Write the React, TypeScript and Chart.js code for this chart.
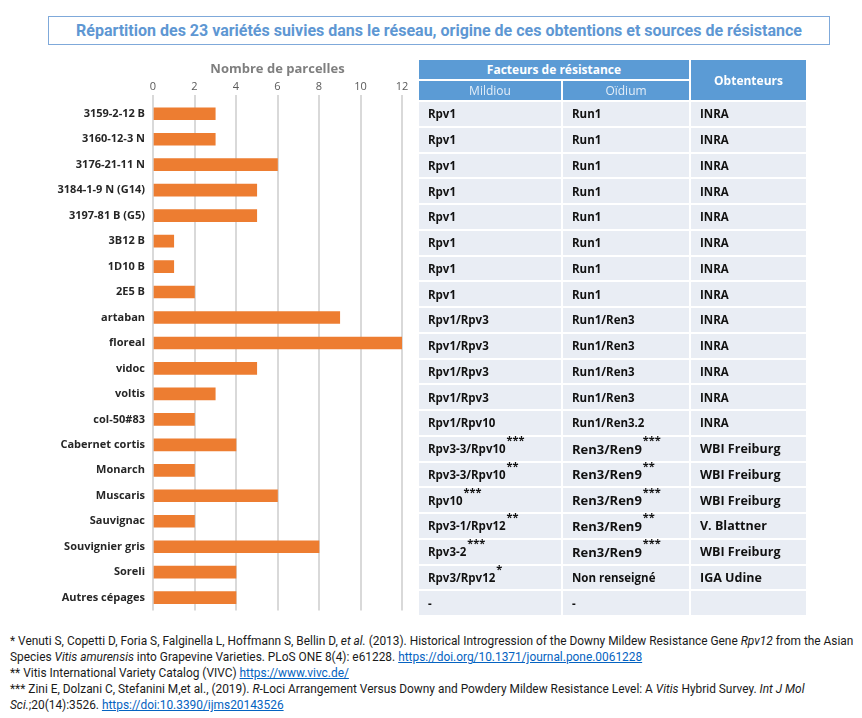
import React, { useEffect, useRef } from "react";
import { Chart, registerables } from "chart.js";

Chart.register(...registerables);

const categories = [
  "3159-2-12 B", "3160-12-3 N", "3176-21-11 N", "3184-1-9 N (G14)", "3197-81 B (G5)",
  "3B12 B", "1D10 B", "2E5 B", "artaban", "floreal", "vidoc", "voltis", "col-50#83",
  "Cabernet cortis", "Monarch", "Muscaris", "Sauvignac", "Souvignier gris", "Soreli", "Autres cépages",
];
const parcelles = [3, 3, 6, 5, 5, 1, 1, 2, 9, 12, 5, 3, 2, 4, 2, 6, 2, 8, 4, 4];
const xTicks = [0, 2, 4, 6, 8, 10, 12];

const mildiou = [
  "Rpv1", "Rpv1", "Rpv1", "Rpv1", "Rpv1", "Rpv1", "Rpv1", "Rpv1",
  "Rpv1/Rpv3", "Rpv1/Rpv3", "Rpv1/Rpv3", "Rpv1/Rpv3", "Rpv1/Rpv10",
  "Rpv3-3/Rpv10", "Rpv3-3/Rpv10", "Rpv10", "Rpv3-1/Rpv12", "Rpv3-2", "Rpv3/Rpv12", "-",
];
const mildiouNote = ["", "", "", "", "", "", "", "", "", "", "", "", "", "***", "**", "***", "**", "***", "*", ""];
const oidium = [
  "Run1", "Run1", "Run1", "Run1", "Run1", "Run1", "Run1", "Run1",
  "Run1/Ren3", "Run1/Ren3", "Run1/Ren3", "Run1/Ren3", "Run1/Ren3.2",
  "Ren3/Ren9", "Ren3/Ren9", "Ren3/Ren9", "Ren3/Ren9", "Ren3/Ren9", "Non renseigné", "-",
];
const oidiumNote = ["", "", "", "", "", "", "", "", "", "", "", "", "", "***", "**", "***", "**", "***", "", ""];
const obtenteurs = [
  "INRA", "INRA", "INRA", "INRA", "INRA", "INRA", "INRA", "INRA",
  "INRA", "INRA", "INRA", "INRA", "INRA",
  "WBI Freiburg", "WBI Freiburg", "WBI Freiburg", "V. Blattner", "WBI Freiburg", "IGA Udine", "",
];

const title = "Répartition des 23 variétés suivies dans le réseau, origine de ces obtentions et sources de résistance";

const CANVAS_TOP = 55;
const PLOT_LEFT = 153;
const PLOT_TOP = 101;
const PLOT_BOTTOM = 616;
const ROW_H = (PLOT_BOTTOM - PLOT_TOP) / categories.length;

const link = { color: "#0563c1", textDecoration: "underline" } as const;

export default function App() {
  const ref = useRef<HTMLCanvasElement | null>(null);

  useEffect(() => {
    let chart: Chart | null = null;
    let cancelled = false;
    const build = () => {
      if (cancelled || !ref.current) return;
      chart = new Chart(ref.current, {
        type: "bar",
        data: {
          labels: categories,
          datasets: [
            {
              data: parcelles,
              backgroundColor: "#ed7d31",
              barThickness: 12,
            },
          ],
        },
        options: {
          indexAxis: "y",
          animation: false,
          responsive: false,
          maintainAspectRatio: false,
          layout: { padding: { top: 0, right: 18, bottom: 9, left: 0 } },
          plugins: { legend: { display: false }, tooltip: { enabled: false } },
          scales: {
            x: {
              position: "top",
              min: 0,
              max: 12,
              afterBuildTicks: (s: any) => {
                s.ticks = xTicks.map((v) => ({ value: v }));
              },
              afterFit: (s: any) => {
                s.height = PLOT_TOP - CANVAS_TOP;
              },
              ticks: {
                color: "#595959",
                padding: 2,
                font: { family: "'Open Sans', sans-serif", size: 11 },
              },
              grid: { color: "#d9d9d9", lineWidth: 2, tickLength: 6 },
              border: { display: false },
              title: {
                display: true,
                text: "Nombre de parcelles",
                color: "#7f7f7f",
                padding: { top: 6, bottom: 0 },
                font: { family: "'Open Sans', sans-serif", size: 13, weight: "bold" },
              },
            },
            y: {
              afterFit: (s: any) => {
                s.width = PLOT_LEFT;
              },
              ticks: {
                color: "#262626",
                padding: 8,
                font: { family: "'Open Sans', sans-serif", size: 11, weight: "bold" },
              },
              grid: { display: false, drawTicks: false },
              border: { display: false },
            },
          },
        },
      });
    };
    const fonts = (document as any).fonts;
    if (fonts && fonts.load) {
      Promise.all([
        fonts.load("bold 11px 'Open Sans'"),
        fonts.load("11px 'Open Sans'"),
        fonts.load("bold 13px 'Open Sans'"),
      ])
        .catch(() => null)
        .then(build);
    } else {
      build();
    }
    return () => {
      cancelled = true;
      if (chart) chart.destroy();
    };
  }, []);

  const cellBase: React.CSSProperties = {
    position: "absolute",
    height: ROW_H - 2,
    background: "#e9edf4",
    fontFamily: "'Open Sans', sans-serif",
    fontWeight: 700,
    fontSize: 11.5,
    color: "#111",
    display: "flex",
    alignItems: "center",
    paddingLeft: 9,
    boxSizing: "border-box",
    whiteSpace: "nowrap",
  };
  const cols = [
    { x: 419, w: 142 },
    { x: 563, w: 126 },
    { x: 691, w: 115 },
  ];
  const sup = (n: string) =>
    n ? (
      <span style={{ position: "relative", top: -9, fontSize: 11, marginLeft: 1, letterSpacing: 0 }}>{n}</span>
    ) : null;

  const headStyle: React.CSSProperties = {
    position: "absolute",
    background: "#5b9bd5",
    fontFamily: "'Open Sans', sans-serif",
    fontSize: 12,
    display: "flex",
    alignItems: "center",
    justifyContent: "center",
  };

  return (
    <div
      style={{
        position: "fixed",
        left: 0,
        top: 0,
        width: 862,
        height: 718,
        background: "#ffffff",
        overflow: "hidden",
      }}
    >
      <div
        style={{
          position: "absolute",
          left: 48,
          top: 16,
          width: 782,
          height: 29,
          border: "1.5px solid #7fa9da",
          boxSizing: "border-box",
          display: "flex",
          alignItems: "center",
          justifyContent: "center",
          fontFamily: "Roboto, sans-serif",
          fontWeight: 700,
          fontSize: 16,
          color: "#5e97d3",
          whiteSpace: "nowrap",
        }}
      >
        {title}
      </div>

      <canvas
        ref={ref}
        width={420}
        height={570}
        style={{ position: "absolute", left: 0, top: CANVAS_TOP, width: 420, height: 570 }}
      />

      <div style={{ ...headStyle, left: 419, top: 60, width: 270, height: 19, color: "#fff", fontWeight: 700 }}>
        Facteurs de résistance
      </div>
      <div style={{ ...headStyle, left: 419, top: 81, width: 142, height: 19, color: "#e4eef8" }}>Mildiou</div>
      <div style={{ ...headStyle, left: 563, top: 81, width: 126, height: 19, color: "#e4eef8" }}>Oïdium</div>
      <div style={{ ...headStyle, left: 691, top: 60, width: 115, height: 40, color: "#fff", fontWeight: 700 }}>
        Obtenteurs
      </div>

      {categories.map((_, i) => {
        const top = PLOT_TOP + i * ROW_H + 1;
        return (
          <React.Fragment key={i}>
            <div style={{ ...cellBase, left: cols[0].x, width: cols[0].w, top }}>
              <span>{mildiou[i]}</span>
              {sup(mildiouNote[i])}
            </div>
            <div style={{ ...cellBase, left: cols[1].x, width: cols[1].w, top }}>
              <span style={{ fontSize: oidiumNote[i] ? 13 : 11.5 }}>{oidium[i]}</span>
              {sup(oidiumNote[i])}
            </div>
            <div style={{ ...cellBase, left: cols[2].x, width: cols[2].w, top }}>
              <span style={{ fontSize: obtenteurs[i] && obtenteurs[i] !== "INRA" ? 12.5 : 11.5 }}>{obtenteurs[i]}</span>
            </div>
          </React.Fragment>
        );
      })}

      <div
        style={{
          position: "absolute",
          left: 10,
          top: 633,
          width: 852,
          fontFamily: "Roboto, sans-serif",
          fontSize: 11.9,
          lineHeight: "16px",
          color: "#1a1a1a",
          whiteSpace: "nowrap",
        }}
      >
        <div>
          * Venuti S, Copetti D, Foria S, Falginella L, Hoffmann S, Bellin D, <i>et al.</i> (2013). Historical
          Introgression of the Downy Mildew Resistance Gene <i>Rpv12</i> from the Asian
        </div>
        <div>
          Species <i>Vitis amurensis</i> into Grapevine Varieties. PLoS ONE 8(4): e61228.{" "}
          <span style={link}>https://doi.org/10.1371/journal.pone.0061228</span>
        </div>
        <div>
          ** Vitis International Variety Catalog (VIVC) <span style={link}>https://www.vivc.de/</span>
        </div>
        <div>
          *** Zini E, Dolzani C, Stefanini M,et al., (2019). <i>R</i>-Loci Arrangement Versus Downy and Powdery
          Mildew Resistance Level: A <i>Vitis</i> Hybrid Survey. <i>Int J Mol</i>
        </div>
        <div>
          <i>Sci.</i>;20(14):3526. <span style={link}>https://doi:10.3390/ijms20143526</span>
        </div>
      </div>
    </div>
  );
}
